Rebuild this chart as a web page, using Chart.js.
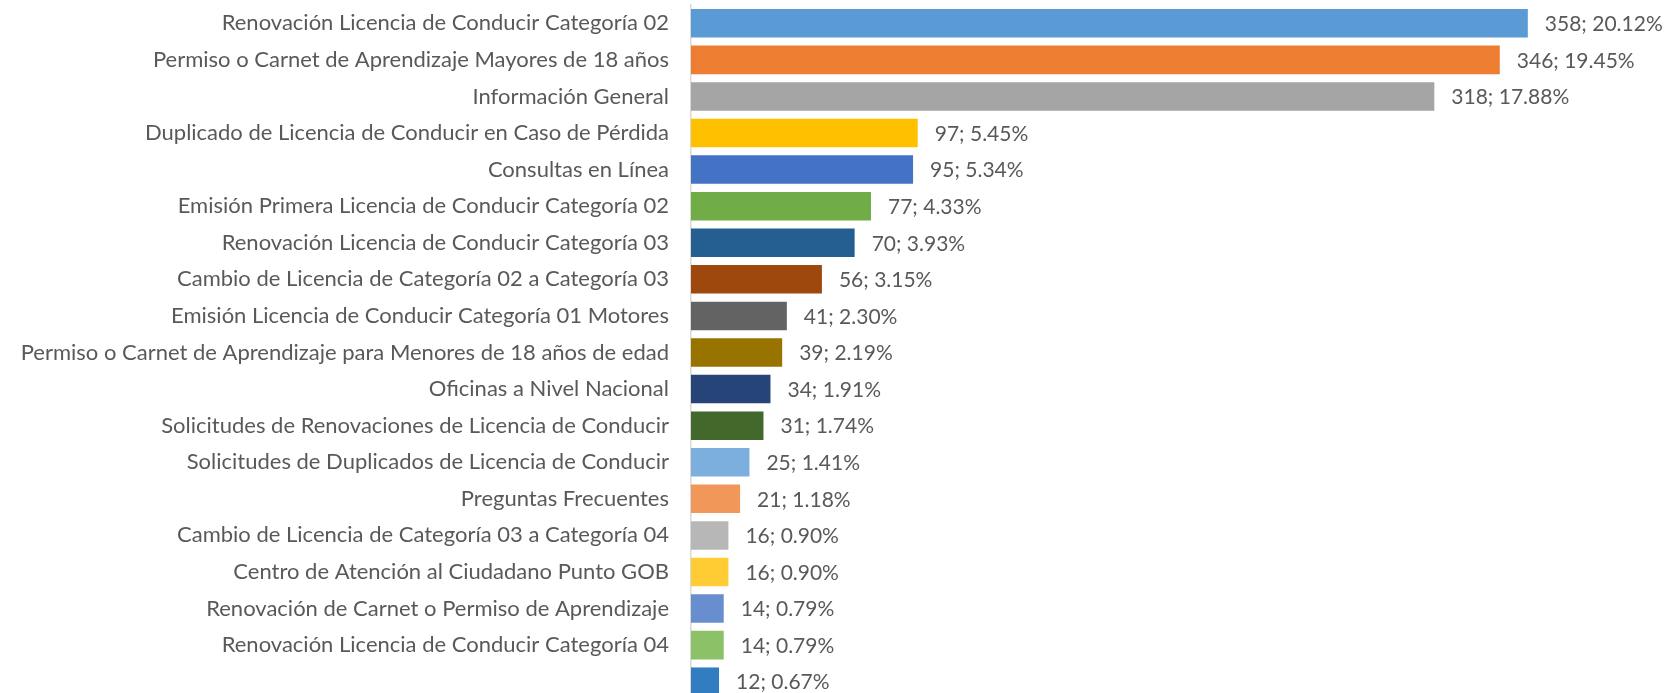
<!DOCTYPE html>
<html>
<head>
<meta charset="utf-8">
<script src="https://cdn.jsdelivr.net/npm/chart.js@4.4.1/dist/chart.umd.min.js"></script>
<style>
  html, body { margin: 0; padding: 0; background: #ffffff; overflow: hidden; }
  #wrap { position: relative; width: 1670px; height: 703px; }
</style>
</head>
<body>
<div id="wrap"><canvas id="c" width="1670" height="703"></canvas></div>
<script>
const categories = [
  "Renovación Licencia de Conducir Categoría 02",
  "Permiso o Carnet de Aprendizaje Mayores de 18 años",
  "Información General",
  "Duplicado de Licencia de Conducir en Caso de Pérdida",
  "Consultas en Línea",
  "Emisión Primera Licencia de Conducir Categoría 02",
  "Renovación Licencia de Conducir Categoría 03",
  "Cambio de Licencia de Categoría 02 a Categoría 03",
  "Emisión Licencia de Conducir Categoría 01 Motores",
  "Permiso o Carnet de Aprendizaje para Menores de 18 años de edad",
  "Oficinas a Nivel Nacional",
  "Solicitudes de Renovaciones de Licencia de Conducir",
  "Solicitudes de Duplicados de Licencia de Conducir",
  "Preguntas Frecuentes",
  "Cambio de Licencia de Categoría 03 a Categoría 04",
  "Centro de Atención al Ciudadano Punto GOB",
  "Renovación de Carnet o Permiso de Aprendizaje",
  "Renovación Licencia de Conducir Categoría 04",
  ""
];
const counts = [358, 346, 318, 97, 95, 77, 70, 56, 41, 39, 34, 31, 25, 21, 16, 16, 14, 14, 12];
const percents = ["20.12%", "19.45%", "17.88%", "5.45%", "5.34%", "4.33%", "3.93%", "3.15%", "2.30%", "2.19%", "1.91%", "1.74%", "1.41%", "1.18%", "0.90%", "0.90%", "0.79%", "0.79%", "0.67%"];
const barColors = ["#5B9BD5", "#ED7D31", "#A5A5A5", "#FFC000", "#4472C4", "#70AD47", "#255E91", "#9E480E", "#636363", "#997300", "#264478", "#43682B", "#7CAFDD", "#F1975A", "#B7B7B7", "#FFCD33", "#698ED0", "#8CC168", "#327DC2"];

const FONT = "Lato, 'Open Sans', sans-serif";
const TEXT = "#595959";

const dataLabels = {
  id: 'dataLabels',
  afterDatasetsDraw(chart) {
    const ctx = chart.ctx;
    const meta = chart.getDatasetMeta(0);
    ctx.save();
    ctx.font = "21px " + FONT;
    ctx.fillStyle = TEXT;
    ctx.textBaseline = 'middle';
    ctx.textAlign = 'left';
    meta.data.forEach((bar, i) => {
      ctx.fillText(counts[i] + "; " + percents[i], bar.x + 17, bar.y + 1);
    });
    ctx.restore();
  }
};

new Chart(document.getElementById('c'), {
  type: 'bar',
  data: {
    labels: categories,
    datasets: [{
      data: counts,
      backgroundColor: barColors,
      borderWidth: 0,
      barPercentage: 0.78,
      categoryPercentage: 1.0
    }]
  },
  options: {
    indexAxis: 'y',
    responsive: false,
    animation: false,
    devicePixelRatio: 1,
    layout: { padding: { top: 5, right: 44, bottom: 3, left: 0 } },
    plugins: { legend: { display: false }, tooltip: { enabled: false } },
    scales: {
      x: {
        min: 0, max: 400,
        display: false
      },
      y: {
        afterFit(scale) { scale.width = 691; scale.paddingTop = 0; scale.paddingBottom = 0; },
        grid: { display: true, drawOnChartArea: false, drawTicks: false },
        border: { display: true, color: '#D9D9D9', width: 1.5 },
        ticks: {
          color: TEXT,
          font: { family: FONT, size: 22 },
          padding: 22,
          autoSkip: false
        }
      }
    }
  },
  plugins: [dataLabels]
});
</script>
</body>
</html>
